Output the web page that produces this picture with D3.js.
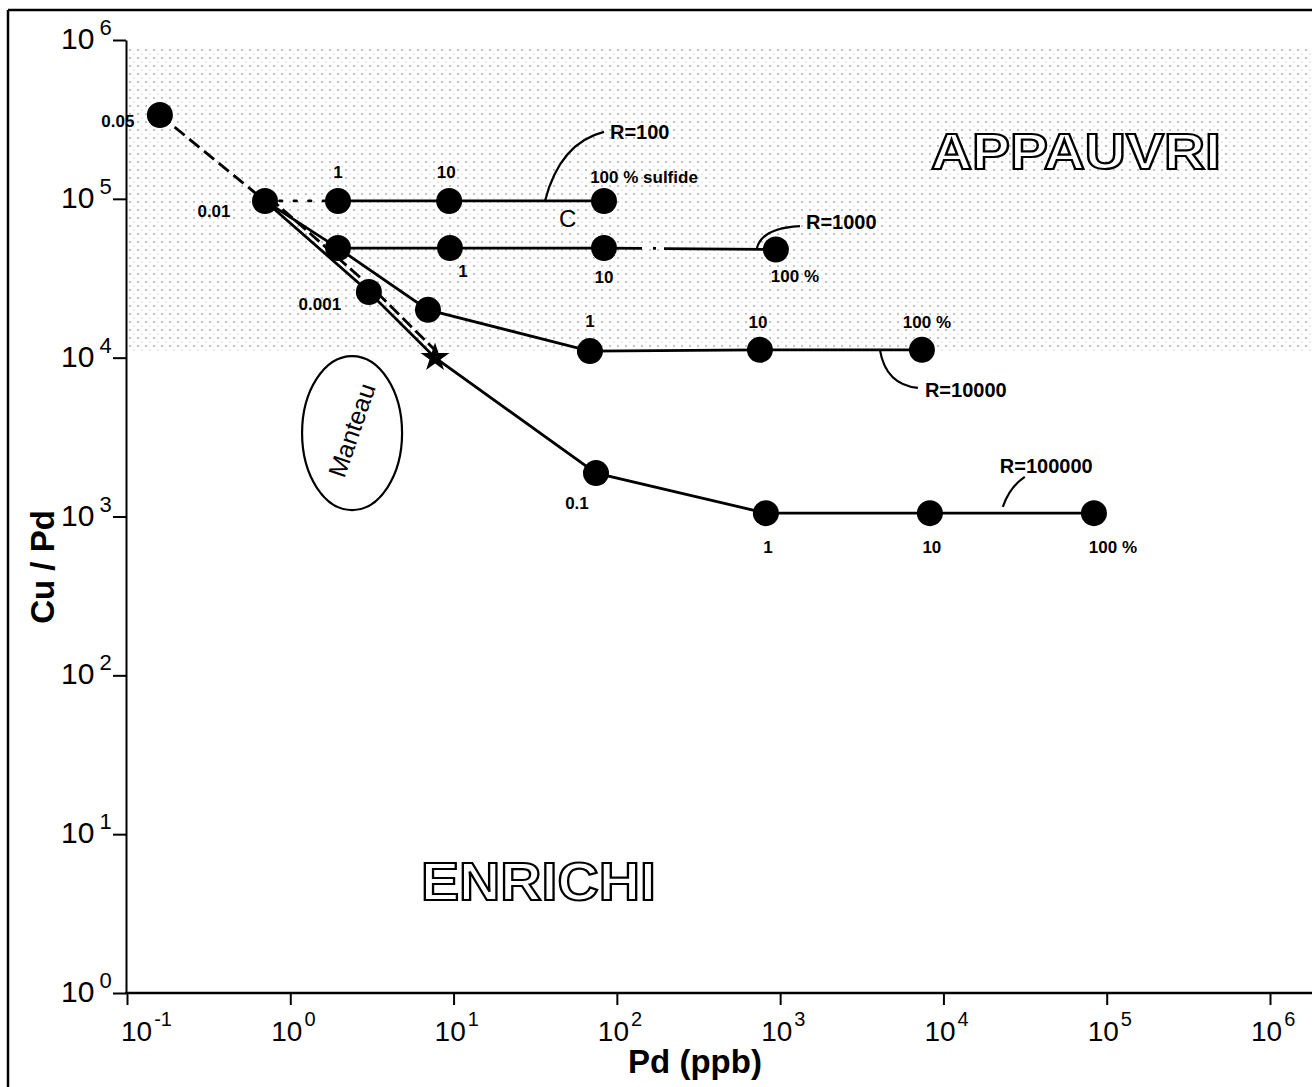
<!DOCTYPE html>
<html>
<head>
<meta charset="utf-8">
<script src="https://cdn.jsdelivr.net/npm/d3@7"></script>
<style>
  html, body { margin: 0; padding: 0; background: #fff; }
  svg { display: block; }
  text { font-family: "Liberation Sans", Arial, Helvetica, sans-serif; fill: #000; }
</style>
</head>
<body>
<svg id="chart" width="1312" height="1087"></svg>
<script>
// ---------------- data ----------------
const xTickExps = [-1, 0, 1, 2, 3, 4, 5, 6];
const yTickExps = [0, 1, 2, 3, 4, 5, 6];

// fractional / batch trend (labels 0.05, 0.01, 0.001)
const fracPd     = [0.159, 0.70, 3.03];
const fracCuPd   = [3.37e5, 9.7e4, 2.59e4];
const fracLabels = ["0.05", "0.01", "0.001"];

// primitive mantle (star)
const mantlePd = 7.7;
const mantleCuPd = 1.0e4;

// R = 100
const r100Pd     = [1.96, 9.4, 83.4];
const r100CuPd   = [9.7e4, 9.7e4, 9.7e4];
const r100Labels = ["1", "10", "100 % sulfide"];

// R = 1000
const r1000Pd     = [1.96, 9.5, 83.4, 942];
const r1000CuPd   = [4.9e4, 4.9e4, 4.9e4, 4.8e4];
const r1000Labels = ["", "1", "10", "100 %"];

// R = 10000
const r10000Pd     = [6.97, 68.4, 752, 7384];
const r10000CuPd   = [2.0e4, 1.1e4, 1.12e4, 1.12e4];
const r10000Labels = ["", "1", "10", "100 %"];

// R = 100000
const r100000Pd     = [74.5, 818, 8260, 83500];
const r100000CuPd   = [1876, 1050, 1050, 1050];
const r100000Labels = ["0.1", "1", "10", "100 %"];

const rNames = ["R=100", "R=1000", "R=10000", "R=100000"];
const fieldNames = ["APPAUVRI", "ENRICHI"];
const mantleName = "Manteau";
const xTitle = "Pd (ppb)";
const yTitle = "Cu / Pd";

// ---------------- setup ----------------
const svg = d3.select("#chart");
const x = d3.scaleLog().domain([0.1, 1e6]).range([127, 1270]);
const y = d3.scaleLog().domain([1, 1e6]).range([993, 40]);

const zip = (a, b) => a.map((v, i) => [v, b[i]]);

// dot pattern for shaded field
const defs = svg.append("defs");
const pat = defs.append("pattern").attr("id", "dots").attr("patternUnits", "userSpaceOnUse")
  .attr("width", 8).attr("height", 8);
pat.append("circle").attr("cx", 2).attr("cy", 2).attr("r", 0.8).attr("fill", "#555");
pat.append("circle").attr("cx", 6).attr("cy", 6).attr("r", 0.55).attr("fill", "#888");

// frame
svg.append("line").attr("x1", 8).attr("y1", 10).attr("x2", 1312).attr("y2", 10)
  .attr("stroke", "#000").attr("stroke-width", 2.5);
svg.append("line").attr("x1", 8).attr("y1", 10).attr("x2", 8).attr("y2", 1087)
  .attr("stroke", "#000").attr("stroke-width", 2.5);

// shaded field (Cu/Pd above ~1.1e4)
svg.append("rect")
  .attr("x", x(0.1) + 2).attr("y", y(9e5))
  .attr("width", 1312 - x(0.1)).attr("height", y(1.1e4) - y(9e5))
  .attr("fill", "url(#dots)").attr("opacity", 0.8);

// ---------------- axes ----------------
const yAxis = d3.axisLeft(y).tickValues(yTickExps.map(e => Math.pow(10, e)))
  .tickSize(13).tickSizeOuter(0).tickFormat("");
const gy = svg.append("g").attr("transform", `translate(${x(0.1) - 1},0)`).call(yAxis);
gy.selectAll("path,line").attr("stroke", "#000").attr("stroke-width", 2);

const xAxis = d3.axisBottom(x).tickValues(xTickExps.map(e => Math.pow(10, e)))
  .tickSize(12).tickSizeOuter(0).tickFormat("");
const gx = svg.append("g").attr("transform", `translate(0,${y(1)})`).call(xAxis);
gx.selectAll("line").attr("stroke", "#000").attr("stroke-width", 2);
gx.select(".domain").remove();
svg.append("line").attr("x1", x(0.1) - 2).attr("x2", 1312).attr("y1", y(1)).attr("y2", y(1))
  .attr("stroke", "#000").attr("stroke-width", 2.5);

// y tick labels
yTickExps.forEach(e => {
  const t = svg.append("text").attr("x", 61).attr("y", y(Math.pow(10, e)) + 9)
    .attr("font-size", 30);
  t.append("tspan").text("10");
  t.append("tspan").attr("dx", 5).attr("dy", -14).attr("font-size", 22).text(String(e));
});
// x tick labels
xTickExps.forEach((e, i) => {
  const t = svg.append("text").attr("x", x(Math.pow(10, e)) - (i === 0 ? 6 : 19)).attr("y", 1041)
    .attr("font-size", 28);
  t.append("tspan").text("10");
  t.append("tspan").attr("dx", 2).attr("dy", -15).attr("font-size", 20).text(String(e));
});

// axis titles
svg.append("text").attr("x", 695).attr("y", 1073).attr("text-anchor", "middle")
  .attr("font-size", 33).attr("font-weight", "bold").text(xTitle);
svg.append("text").attr("transform", "translate(54,567) rotate(-90)").attr("text-anchor", "middle")
  .attr("font-size", 33).attr("font-weight", "bold").text(yTitle);

// ---------------- lines ----------------
const line = d3.line().x(d => x(d[0])).y(d => y(d[1]));
const LW = 2.8;
function path(pts, opts = {}) {
  return svg.append("path").attr("d", line(pts)).attr("fill", "none")
    .attr("stroke", "#000").attr("stroke-width", opts.w || LW)
    .attr("stroke-dasharray", opts.dash || null)
    .attr("stroke-linecap", opts.cap || "butt")
    .attr("transform", opts.tr || null);
}
const frac = zip(fracPd, fracCuPd);
const mantle = [mantlePd, mantleCuPd];
const r100 = zip(r100Pd, r100CuPd);
const r1000 = zip(r1000Pd, r1000CuPd);
const r10000 = zip(r10000Pd, r10000CuPd);
const r100000 = zip(r100000Pd, r100000CuPd);

// dashed trend
path([frac[0], frac[1]], { dash: "13,6" });
path([frac[1], frac[2], mantle], { dash: "13,5", tr: "translate(4,-3.5)" });
// R=100000 mixing curve from 0.01 through 0.001 and mantle
path([frac[1], frac[2], mantle, ...r100000]);
// R=10000 curve
path([frac[1], r1000[0], ...r10000]);
// R=100 row
path([frac[1], r100[0]], { dash: "2.5,12", cap: "round" });
path(r100);
// R=1000 row
path(r1000.slice(0, 3));
path(r1000.slice(2), { dash: "38,11,3,8,400" });

// ---------------- points ----------------
const allPts = [...frac, ...r100, ...r1000, ...r10000, ...r100000];
svg.append("g").selectAll("circle").data(allPts).join("circle")
  .attr("cx", d => x(d[0])).attr("cy", d => y(d[1])).attr("r", 13).attr("fill", "#000");

svg.append("path").attr("d", d3.symbol(d3.symbolStar, 260)())
  .attr("transform", `translate(${x(mantlePd)},${y(mantleCuPd)})`).attr("fill", "#000");

// ---------------- point labels ----------------
function labels(pts, labs, dx, dy) {
  pts.forEach((p, i) => {
    if (!labs[i]) return;
    const ox = Array.isArray(dx) ? dx[i] : dx;
    const oy = Array.isArray(dy) ? dy[i] : dy;
    svg.append("text").attr("x", x(p[0]) + ox).attr("y", y(p[1]) + oy)
      .attr("text-anchor", "middle").attr("font-size", 17).attr("font-weight", "bold")
      .attr("transform", null)
      .text(labs[i]);
  });
}
labels(frac, fracLabels, [-42, -51, -49], [12, 16, 18]);
labels(r100, r100Labels, [0, -3, 40], [-23, -23, -18]);
labels(r1000, r1000Labels, [0, 13, 0, 19], [0, 29, 35, 33]);
labels(r10000, r10000Labels, [0, 0, -2, 5], [0, -24, -22, -22]);
labels(r100000, r100000Labels, [-19, 2, 2, 19], [36, 40, 40, 40]);

// ---------------- R annotations (leaders) ----------------
function leader(px, py, c, e, name, tdx, tdy) {
  const sx = x(px), sy = y(py);
  svg.append("path")
    .attr("d", `M${sx},${sy} Q${sx + c[0]},${sy + c[1]} ${sx + e[0]},${sy + e[1]}`)
    .attr("fill", "none").attr("stroke", "#000").attr("stroke-width", 2.2);
  svg.append("text").attr("x", sx + e[0] + tdx).attr("y", sy + e[1] + tdy)
    .attr("font-size", 20).attr("font-weight", "bold").text(name);
}
leader(36.3, 9.7e4, [15, -58], [59, -69], rNames[0], 6, 7);
leader(721, 4.9e4, [5, -20], [43, -22], rNames[1], 6, 3);
leader(4083, 1.12e4, [6, 35], [38, 38], rNames[2], 7, 9);
leader(23100, 1150, [7, -20], [22, -30], rNames[3], -25, -4);

// "C"
svg.append("text").attr("x", x(50)).attr("y", y(6.6e4)).attr("text-anchor", "middle")
  .attr("font-size", 24).text("C");

// ---------------- Manteau ellipse ----------------
const mx = x(2.39), my = y(3350);
svg.append("ellipse").attr("cx", mx).attr("cy", my).attr("rx", 50).attr("ry", 77)
  .attr("fill", "none").attr("stroke", "#000").attr("stroke-width", 2.2);
svg.append("text").attr("transform", `translate(${mx + 8},${my}) rotate(-71)`)
  .attr("text-anchor", "middle").attr("font-size", 25).text(mantleName);

// ---------------- field names (outlined) ----------------
svg.append("text").attr("x", x(8380)).attr("y", y(1.54e5))
  .attr("font-size", 50).attr("font-weight", "bold").attr("textLength", 290).attr("lengthAdjust", "spacingAndGlyphs")
  .style("fill", "#fff").attr("stroke", "#000").attr("stroke-width", 2.2)
  .text(fieldNames[0]);
svg.append("text").attr("x", x(6.31)).attr("y", y(3.84))
  .attr("font-size", 54).attr("font-weight", "bold").attr("textLength", 235).attr("lengthAdjust", "spacingAndGlyphs")
  .style("fill", "#fff").attr("stroke", "#000").attr("stroke-width", 2.2)
  .text(fieldNames[1]);
</script>
</body>
</html>
